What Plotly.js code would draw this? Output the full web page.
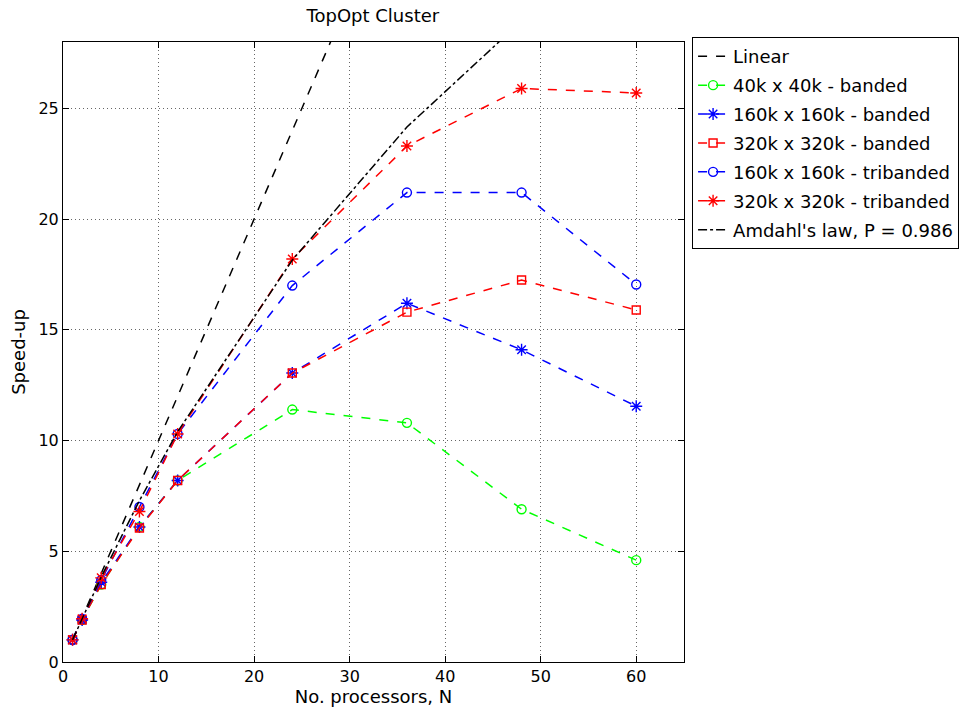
<!DOCTYPE html>
<html><head><meta charset="utf-8">
<script src="https://cdn.plot.ly/plotly-3.0.1.min.js"></script>
<style>body{margin:0;background:#fff}#chart{width:966px;height:718px}</style>
</head><body><div id="chart"></div>
<script>
const procs = [1, 2, 4, 8, 12, 24, 36, 48, 60];
const linear = [1, 2, 4, 8, 12, 24, 36, 48, 60];
const banded40k = [1.0, 1.9, 3.5, 6.1, 8.2, 11.4, 10.8, 6.9, 4.6];
const banded160k = [1.0, 1.9, 3.6, 6.1, 8.2, 13.05, 16.2, 14.1, 11.55];
const banded320k = [1.0, 1.9, 3.5, 6.05, 8.2, 13.05, 15.8, 17.25, 15.9];
const tribanded160k = [1.0, 1.95, 3.7, 7.0, 10.3, 17.0, 21.2, 21.2, 17.05];
const tribanded320k = [1.0, 1.95, 3.8, 6.8, 10.3, 18.2, 23.3, 25.9, 25.7];
const amdahl = [1.0, 1.97, 3.84, 7.29, 10.4, 18.15, 24.16, 28.95, 32.86];
const names = ["Linear", "40k x 40k - banded", "160k x 160k - banded", "320k x 320k - banded",
  "160k x 160k - tribanded", "320k x 320k - tribanded", "Amdahl's law, P = 0.986"];

const font = "DejaVu Sans, Liberation Sans, Arial, sans-serif";
let gi = 0;
function tr(y, name, color, dash, symbol, msize) {
  const t = {x: procs, y: y, name: name, type: 'scatter', legendgroup: 'g' + (gi++),
    mode: symbol ? 'lines+markers' : 'lines',
    line: {color: color, dash: dash, width: 1.5}, cliponaxis: true};
  if (symbol) t.marker = {symbol: symbol, size: msize || 9, color: color, line: {color: color, width: 1.4}};
  return t;
}
const data = [
  tr(linear, names[0], '#000000', 'dash'),
  tr(banded40k, names[1], '#00ff00', 'dash', 'circle-open', 9),
  tr(banded160k, names[2], '#0000ff', 'dash', 'asterisk-open', 10),
  tr(banded320k, names[3], '#ff0000', 'dash', 'square-open', 8),
  tr(tribanded160k, names[4], '#0000ff', 'dash', 'circle-open', 9),
  tr(tribanded320k, names[5], '#ff0000', 'dash', 'asterisk-open', 10),
  tr(amdahl, names[6], '#000000', 'dashdot')
];
const axis = {showline: true, linecolor: '#000', linewidth: 1, mirror: 'ticks',
  ticks: 'inside', ticklen: 6, tickcolor: '#000', showgrid: true, gridcolor: '#666',
  griddash: '1px,3px', gridwidth: 1, zeroline: false, tickfont: {family: font, size: 16, color: '#000'}};
const layout = {
  width: 966, height: 718,
  paper_bgcolor: '#fff', plot_bgcolor: '#fff',
  margin: {l: 63, r: 282, t: 42, b: 56, autoexpand: false},
  title: {text: 'TopOpt Cluster', font: {family: font, size: 18, color: '#000'},
    x: 0.386, xanchor: 'center', y: 0.978, yanchor: 'middle'},
  xaxis: Object.assign({}, axis, {range: [0, 65], tickvals: [0,10,20,30,40,50,60],
    title: {text: 'No. processors, N', font: {family: font, size: 18, color: '#000'}, standoff: 0}}),
  yaxis: Object.assign({}, axis, {range: [0, 28], tickvals: [0,5,10,15,20,25],
    title: {text: 'Speed-up', font: {family: font, size: 18, color: '#000'}, standoff: 8}}),
  showlegend: true,
  legend: {x: 1.013, xanchor: 'left', y: 1.008, yanchor: 'top',
    bordercolor: '#000', borderwidth: 1, bgcolor: '#fff',
    font: {family: font, size: 18, color: '#000'}, itemwidth: 30, tracegroupgap: 2.5}
};
Plotly.newPlot('chart', data, layout, {displayModeBar: false});
</script></body></html>
